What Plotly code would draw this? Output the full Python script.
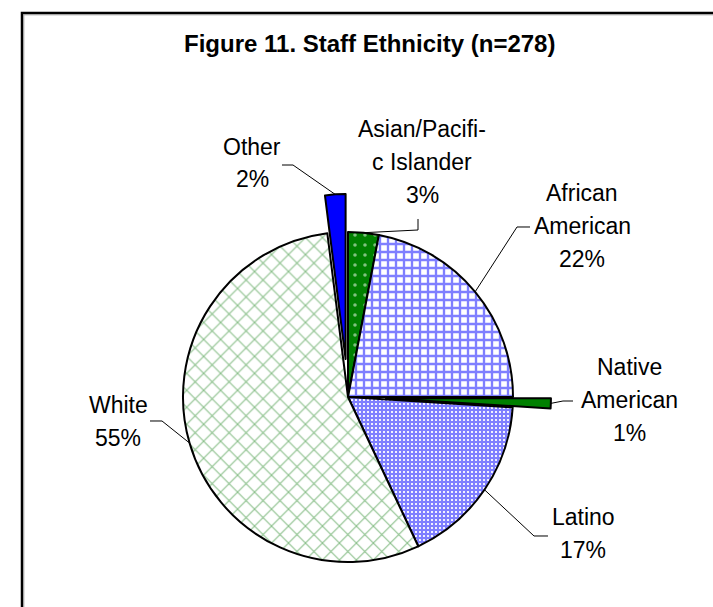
import math
import plotly.graph_objects as go

# ---- data ----
labels = ["Asian/Pacific Islander", "African American", "Native American",
          "Latino", "White", "Other"]
label_lines = [["Asian/Pacifi-", "c Islander"], ["African", "American"], ["Native", "American"],
               ["Latino"], ["White"], ["Other"]]
values = [3, 22, 1, 17, 55, 2]
pulls = [0, 0, 0.23, 0, 0, 0.23]
title_text = "Figure 11. Staff Ethnicity (n=278)"

# ---- styling / layout constants ----
W, H = 713, 607
CX, CY, R = 348, 397, 165          # pie centre and radius in pixels
max_pull = max(pulls)
half = R * (1 + max_pull)
dom_x = [(CX - half) / W, (CX + half) / W]
dom_y = [(H - CY - half) / H, (H - CY + half) / H]

bg_colors = ["#008000", "#ffffff", "#008000", "#ffffff", "#ffffff", "#0000ff"]
fg_colors = ["#ffffff", "#0000ff", "#008000", "#0000ff", "#117d11", "#0000ff"]
shapes_p = [".", "+", "", "+", "x", ""]
sizes_p = [10, 8, 8, 4, 12, 8]
solid_p = [0.1, 0.5, 0.3, 0.8, 0.17, 0.3]

LINE_H = 33
# label centre positions (px) and leader polylines: start, elbow
label_pos = {
    "Asian/Pacific Islander": (422, 162),
    "African American": (582, 226),
    "Native American": (629, 400),
    "Latino": (583, 533),
    "White": (118, 421),
    "Other": (252, 163),
}
leader = {
    "Asian/Pacific Islander": [(418, 219), (418, 230)],
    "African American": [(530, 227), (517, 227)],
    "Native American": [(573, 401), (563, 401)],
    "Latino": [(548, 536), (534, 536)],
    "White": [(150, 421), (162, 421)],
    "Other": [(282, 165), (293, 165)],
}

fig = go.Figure(go.Pie(
    labels=labels,
    values=values,
    pull=pulls,
    sort=False,
    direction="clockwise",
    rotation=0,
    textinfo="none",
    hoverinfo="label+percent",
    showlegend=False,
    domain=dict(x=dom_x, y=dom_y),
    marker=dict(
        colors=bg_colors,
        line=dict(color="black", width=2),
        pattern=dict(shape=shapes_p, fgcolor=fg_colors, bgcolor=bg_colors,
                     size=sizes_p, solidity=solid_p, fillmode="overlay"),
    ),
))

def px2paper(x, y):
    return x / W, 1 - y / H

total = sum(values)
annotations = []
shapes = []
cum = 0
font = dict(family="Liberation Sans, Arial, sans-serif", size=23, color="black")
for lab, lines, v, p in zip(labels, label_lines, values, pulls):
    mid = (cum + v / 2) / total * 2 * math.pi
    cum += v
    rr = R * (1 + p)
    ex = CX + rr * math.sin(mid)
    ey = CY - rr * math.cos(mid)
    pct = round(v / total * 100)
    all_lines = lines + [f"{pct}%"]
    lx, ly = label_pos[lab]
    n = len(all_lines)
    for i, t in enumerate(all_lines):
        yy = ly + (i - (n - 1) / 2) * LINE_H
        ax_, ay_ = px2paper(lx, yy)
        annotations.append(dict(
            x=ax_, y=ay_, xref="paper", yref="paper", showarrow=False,
            text=t, xanchor="center", yanchor="middle", font=font,
        ))
    pts = leader[lab] + [(ex, ey)]
    path = "M " + " L ".join(f"{px2paper(a, b)[0]:.5f},{px2paper(a, b)[1]:.5f}" for a, b in pts)
    shapes.append(dict(type="path", xref="paper", yref="paper", path=path,
                       line=dict(color="black", width=1)))

# title
annotations.append(dict(
    x=369 / W, y=1 - 43 / H, xref="paper", yref="paper", showarrow=False,
    text=f"<b>{title_text}</b>", xanchor="center", yanchor="middle",
    font=dict(family="Liberation Sans, Arial, sans-serif", size=24, color="black"),
))

# chart frame (extends past right/bottom edge)
shapes.append(dict(type="rect", xref="paper", yref="paper",
                   x0=22 / W, x1=1.05, y0=-0.05, y1=1 - 13 / H,
                   line=dict(color="black", width=2.5)))
shapes.append(dict(type="rect", xref="paper", yref="paper",
                   x0=23.8 / W, x1=1.05, y0=-0.05, y1=1 - 14.8 / H,
                   line=dict(color="#999999", width=1)))

fig.update_layout(
    width=W, height=H,
    margin=dict(l=0, r=0, t=0, b=0),
    paper_bgcolor="white", plot_bgcolor="white",
    annotations=annotations, shapes=shapes,
)

fig.write_html("out.html")
